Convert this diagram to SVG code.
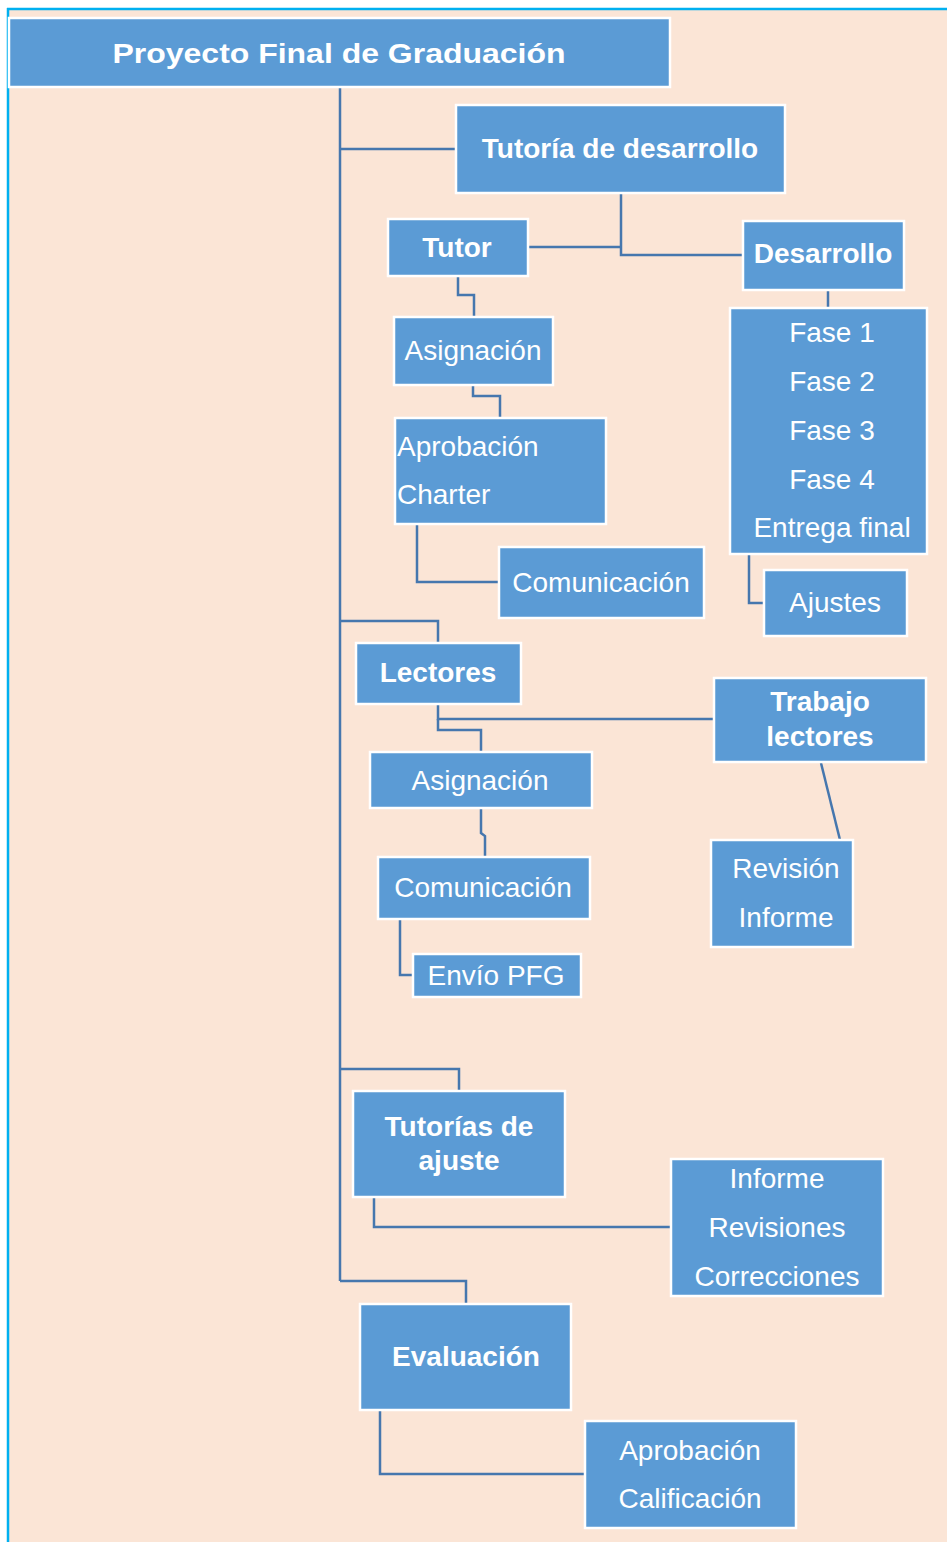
<svg xmlns="http://www.w3.org/2000/svg" width="947" height="1542" viewBox="0 0 947 1542">
<style>
.box{fill:#5B9BD5;stroke:#FFFFFF;stroke-width:2.5}
.t{font-family:"Liberation Sans",Arial,sans-serif;font-size:28px;fill:#FFFFFF;text-anchor:middle}
.b{font-weight:bold}
.l{text-anchor:start}
.c{fill:none;stroke:#4677AE;stroke-width:2.5}
</style>
<rect x="0" y="0" width="947" height="1542" fill="#FFFFFF"/>
<rect x="8" y="9" width="939" height="1533" fill="#FBE5D6"/>
<path d="M7 9 H947 M8 8 V1542" fill="none" stroke="#00B0F0" stroke-width="2.5"/>

<g id="connectors">
<path class="c" d="M340 88 V1281" stroke-width="3"/>
<path class="c" d="M340 149 H456"/>
<path class="c" d="M621 193 V255 H743"/>
<path class="c" d="M528 247 H621"/>
<path class="c" d="M828 291 V308"/>
<path class="c" d="M749 555 V603 H764"/>
<path class="c" d="M458 277 V295 H474 V317"/>
<path class="c" d="M473 385 V396 H500 V418"/>
<path class="c" d="M417 524 V582 H499"/>
<path class="c" d="M340 621 H438 V643"/>
<path class="c" d="M438 704 V719 H714"/>
<path class="c" d="M438 719 V730 H481 V752"/>
<path class="c" d="M821 763 L840 840"/>
<path class="c" d="M481 808 V833 L485 836 V857"/>
<path class="c" d="M400 919 V975 H413"/>
<path class="c" d="M340 1069 H459 V1091"/>
<path class="c" d="M374 1197 V1227 H671"/>
<path class="c" d="M340 1281 H466 V1304"/>
<path class="c" d="M380 1410 V1474 H585"/>
</g>

<g id="title">
<rect class="box" x="9" y="18" width="661" height="69"/>
<text class="t b" x="339" y="63" font-size="34" textLength="453" lengthAdjust="spacingAndGlyphs">Proyecto Final de Graduación</text>
</g>
<g id="tutoria-desarrollo">
<rect class="box" x="456" y="105" width="329" height="88"/>
<text class="t b" x="620" y="158">Tutoría de desarrollo</text>
</g>
<g id="tutor">
<rect class="box" x="388" y="219" width="140" height="57"/>
<text class="t b" x="457" y="257">Tutor</text>
</g>
<g id="desarrollo">
<rect class="box" x="743" y="221" width="161" height="69"/>
<text class="t b" x="823" y="263">Desarrollo</text>
</g>
<g id="fases">
<rect class="box" x="730" y="308" width="197" height="246"/>
<text class="t" x="832" y="342">Fase 1</text>
<text class="t" x="832" y="391">Fase 2</text>
<text class="t" x="832" y="440">Fase 3</text>
<text class="t" x="832" y="489">Fase 4</text>
<text class="t" x="832" y="537">Entrega final</text>
</g>
<g id="ajustes">
<rect class="box" x="764" y="570" width="143" height="66"/>
<text class="t" x="835" y="612">Ajustes</text>
</g>
<g id="asignacion1">
<rect class="box" x="394" y="317" width="159" height="68"/>
<text class="t" x="473" y="360">Asignación</text>
</g>
<g id="aprobacion-charter">
<rect class="box" x="395" y="418" width="211" height="106"/>
<text class="t l" x="397" y="456">Aprobación</text>
<text class="t l" x="397" y="504">Charter</text>
</g>
<g id="comunicacion1">
<rect class="box" x="499" y="547" width="205" height="71"/>
<text class="t" x="601" y="592">Comunicación</text>
</g>
<g id="lectores">
<rect class="box" x="356" y="643" width="165" height="61"/>
<text class="t b" x="438" y="682">Lectores</text>
</g>
<g id="trabajo-lectores">
<rect class="box" x="714" y="678" width="212" height="84"/>
<text class="t b" x="820" y="711">Trabajo</text>
<text class="t b" x="820" y="746">lectores</text>
</g>
<g id="revision-informe">
<rect class="box" x="711" y="840" width="142" height="107"/>
<text class="t" x="786" y="878">Revisión</text>
<text class="t" x="786" y="927">Informe</text>
</g>
<g id="asignacion2">
<rect class="box" x="370" y="752" width="222" height="56"/>
<text class="t" x="480" y="790">Asignación</text>
</g>
<g id="comunicacion2">
<rect class="box" x="378" y="857" width="212" height="62"/>
<text class="t" x="483" y="897">Comunicación</text>
</g>
<g id="envio-pfg">
<rect class="box" x="413" y="954" width="168" height="43"/>
<text class="t" x="496" y="985">Envío PFG</text>
</g>
<g id="tutorias-ajuste">
<rect class="box" x="353" y="1091" width="212" height="106"/>
<text class="t b" x="459" y="1136">Tutorías de</text>
<text class="t b" x="459" y="1170">ajuste</text>
</g>
<g id="informe-revisiones">
<rect class="box" x="671" y="1159" width="212" height="137"/>
<text class="t" x="777" y="1188">Informe</text>
<text class="t" x="777" y="1237">Revisiones</text>
<text class="t" x="777" y="1286">Correcciones</text>
</g>
<g id="evaluacion">
<rect class="box" x="360" y="1304" width="211" height="106"/>
<text class="t b" x="466" y="1366">Evaluación</text>
</g>
<g id="aprobacion-calificacion">
<rect class="box" x="585" y="1421" width="211" height="107"/>
<text class="t" x="690" y="1460">Aprobación</text>
<text class="t" x="690" y="1508">Calificación</text>
</g>
</svg>
